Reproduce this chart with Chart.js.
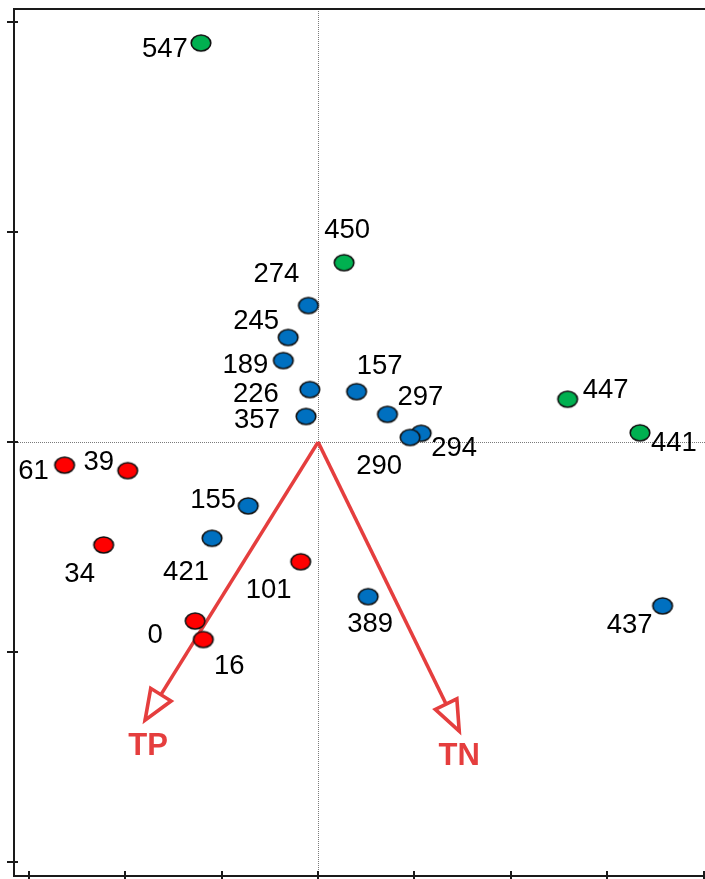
<!DOCTYPE html>
<html>
<head>
<meta charset="utf-8">
<script src="https://cdn.jsdelivr.net/npm/chart.js@4.4.1/dist/chart.umd.min.js"></script>
<style>
  html, body { margin: 0; padding: 0; background: #ffffff; }
  #wrap { width: 705px; height: 879px; }
  canvas { display: block; }
</style>
</head>
<body>
<div id="wrap"><canvas id="biplot" width="705" height="879"></canvas></div>
<script>
// Site scores, grouped by cluster
const redSites = ['61', '39', '34', '0', '16', '101'];
const redX = [-0.526, -0.395, -0.445, -0.255, -0.238, -0.036];
const redY = [-0.055, -0.068, -0.245, -0.426, -0.470, -0.285];

const blueSites = ['155', '421', '357', '226', '189', '245', '274', '157', '297', '294', '290', '389', '437'];
const blueX = [-0.145, -0.220, -0.025, -0.017, -0.072, -0.062, -0.020, 0.080, 0.144, 0.214, 0.191, 0.104, 0.715];
const blueY = [-0.152, -0.229, 0.061, 0.125, 0.194, 0.249, 0.325, 0.120, 0.066, 0.021, 0.011, -0.368, -0.390];

const greenSites = ['547', '450', '447', '441'];
const greenX = [-0.243, 0.054, 0.518, 0.668];
const greenY = [0.950, 0.427, 0.102, 0.022];

// Environmental vectors
const envNames = ['TP', 'TN'];
const envX = [-0.359, 0.293];
const envY = [-0.662, -0.688];

// Axis tick values
const xTicks = [-0.6, -0.4, -0.2, 0, 0.2, 0.4, 0.6, 0.8];
const yTicks = [-1, -0.5, 0, 0.5, 1];

// Label placement (pixel offsets from each marker)
const labelOffsets = {
  '61': [-31, 4], '39': [-29, -10], '34': [-24, 27], '0': [-40, 12], '16': [26, 25], '101': [-32, 26],
  '155': [-35, -8], '421': [-26, 32], '357': [-49, 2], '226': [-54, 3], '189': [-38, 3], '245': [-32, -18],
  '274': [-32, -33], '157': [23, -28], '297': [33, -19], '294': [33, 13], '290': [-31, 27], '389': [2, 25],
  '437': [-33, 17], '547': [-36, 4], '450': [3, -35], '447': [38, -11], '441': [34, 8]
};
const envLabelOffsets = { 'TP': [3, 24], 'TN': [0, 23] };

const ARROW_RED = '#e53e3e';
const SITE_FONT_PX = 27.5;
const ENV_FONT_PX = 31;

function markerImage(fill) {
  const c = document.createElement('canvas');
  c.width = 24; c.height = 20;
  const g = c.getContext('2d');
  g.beginPath();
  g.ellipse(12, 10, 9.8, 8.0, 0, 0, Math.PI * 2);
  g.fillStyle = fill;
  g.fill();
  g.lineWidth = 1.6;
  g.strokeStyle = '#111';
  g.stroke();
  return c;
}

function toPoints(xs, ys) {
  return xs.map((x, i) => ({ x: x, y: ys[i] }));
}

function siteDataset(names, xs, ys, fill) {
  return {
    type: 'scatter',
    data: toPoints(xs, ys),
    siteNames: names,
    pointStyle: markerImage(fill),
    pointRadius: 10,
    order: 1
  };
}

const envDatasets = envNames.map((n, i) => ({
  type: 'scatter',
  data: [{ x: 0, y: 0 }, { x: envX[i], y: envY[i] }],
  envName: n,
  showLine: true,
  borderColor: ARROW_RED,
  borderWidth: 3.6,
  pointRadius: 0,
  order: 5
}));

const frameAndGuides = {
  id: 'frameAndGuides',
  beforeDatasetsDraw(chart) {
    const { ctx, chartArea: a, scales: { x, y } } = chart;
    const x0 = x.getPixelForValue(0), y0 = y.getPixelForValue(0);
    ctx.save();
    ctx.strokeStyle = '#7a7a7a';
    ctx.lineWidth = 1;
    ctx.setLineDash([1, 1]);
    ctx.beginPath();
    ctx.moveTo(Math.round(x0) + 0.5, a.top);
    ctx.lineTo(Math.round(x0) + 0.5, a.bottom);
    ctx.moveTo(a.left, Math.round(y0) + 0.5);
    ctx.lineTo(a.right, Math.round(y0) + 0.5);
    ctx.stroke();
    ctx.restore();
  },
  afterDraw(chart) {
    const { ctx, chartArea: a, scales: { x, y } } = chart;
    ctx.save();
    ctx.strokeStyle = '#1a1a1a';
    ctx.lineWidth = 2;
    ctx.beginPath();
    ctx.moveTo(a.right, a.top);
    ctx.lineTo(a.left, a.top);
    ctx.lineTo(a.left, a.bottom);
    ctx.lineTo(a.right, a.bottom);
    ctx.stroke();
    ctx.beginPath();
    yTicks.forEach(v => {
      const py = Math.round(y.getPixelForValue(v));
      ctx.moveTo(a.left - 7, py);
      ctx.lineTo(a.left + 4, py);
    });
    xTicks.forEach(v => {
      const px = Math.round(x.getPixelForValue(v));
      ctx.moveTo(px, a.bottom - 5);
      ctx.lineTo(px, a.bottom + 4);
    });
    ctx.stroke();
    ctx.restore();
  }
};

const arrowsAndLabels = {
  id: 'arrowsAndLabels',
  afterDatasetsDraw(chart) {
    const { ctx, scales: { x, y } } = chart;
    ctx.save();
    chart.data.datasets.forEach(ds => {
      if (!ds.envName) return;
      const ox = x.getPixelForValue(ds.data[0].x), oy = y.getPixelForValue(ds.data[0].y);
      const tx = x.getPixelForValue(ds.data[1].x), ty = y.getPixelForValue(ds.data[1].y);
      const len = Math.hypot(tx - ox, ty - oy);
      const ux = (tx - ox) / len, uy = (ty - oy) / len;
      const bx = tx - ux * 30, by = ty - uy * 30;
      const nx = -uy, ny = ux;
      ctx.beginPath();
      ctx.moveTo(tx, ty);
      ctx.lineTo(bx + nx * 12, by + ny * 12);
      ctx.lineTo(bx - nx * 12, by - ny * 12);
      ctx.closePath();
      ctx.fillStyle = '#ffffff';
      ctx.fill();
      ctx.lineWidth = 3.6;
      ctx.lineJoin = 'miter';
      ctx.strokeStyle = ARROW_RED;
      ctx.stroke();
      const off = envLabelOffsets[ds.envName];
      ctx.font = 'bold ' + ENV_FONT_PX + 'px "Liberation Sans", Arial, sans-serif';
      ctx.fillStyle = ARROW_RED;
      ctx.textAlign = 'center';
      ctx.textBaseline = 'alphabetic';
      ctx.fillText(ds.envName, tx + off[0], ty + off[1] + 0.358 * ENV_FONT_PX);
    });
    ctx.font = SITE_FONT_PX + 'px "Liberation Sans", Arial, sans-serif';
    ctx.fillStyle = '#000000';
    ctx.textAlign = 'center';
    ctx.textBaseline = 'alphabetic';
    chart.data.datasets.forEach(ds => {
      if (!ds.siteNames) return;
      ds.data.forEach((p, i) => {
        const name = ds.siteNames[i];
        const off = labelOffsets[name] || [0, -24];
        const px = x.getPixelForValue(p.x), py = y.getPixelForValue(p.y);
        ctx.fillText(name, px + off[0], py + off[1] + 0.358 * SITE_FONT_PX);
      });
    });
    ctx.restore();
  }
};

new Chart(document.getElementById('biplot'), {
  type: 'scatter',
  data: {
    datasets: [
      ...envDatasets,
      siteDataset(redSites, redX, redY, '#ff0000'),
      siteDataset(blueSites, blueX, blueY, '#0070c0'),
      siteDataset(greenSites, greenX, greenY, '#00b050')
    ]
  },
  options: {
    responsive: false,
    animation: false,
    devicePixelRatio: 1,
    layout: { autoPadding: false, padding: { left: 14, top: 9, right: 0, bottom: 3 } },
    plugins: { legend: { display: false }, tooltip: { enabled: false } },
    scales: {
      x: { type: 'linear', min: -0.631, max: 0.803, display: false },
      y: { type: 'linear', min: -1.033, max: 1.031, display: false }
    }
  },
  plugins: [frameAndGuides, arrowsAndLabels]
});
</script>
</body>
</html>
